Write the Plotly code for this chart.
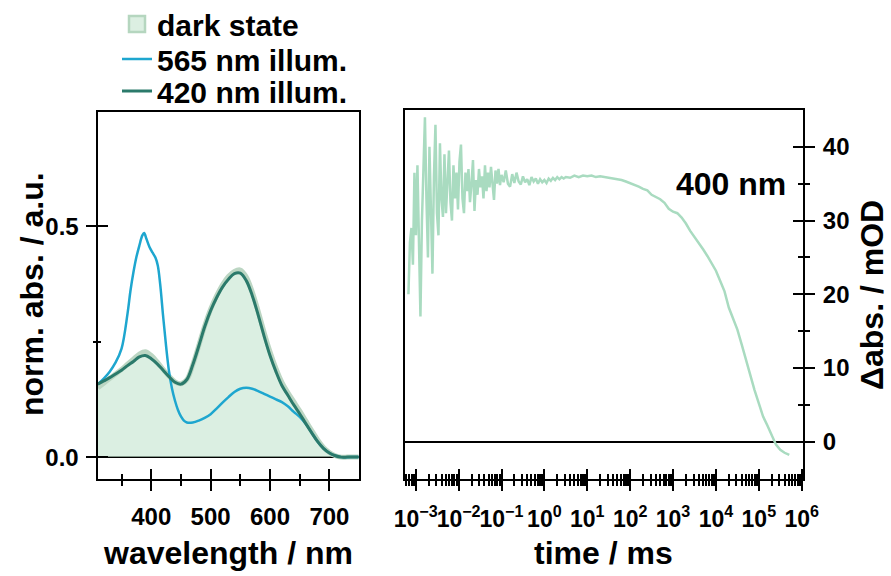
import plotly.graph_objects as go

# ---------------- data: left panel (absorption spectra) ----------------
wl_dark = [310, 320, 330, 340, 350, 360, 370, 380, 390, 400, 410, 420, 430, 440, 450, 460, 470, 480,
           490, 500, 510, 520, 530, 540, 550, 560, 570, 580, 590, 600, 610, 620, 630, 640, 650, 660,
           670, 680, 690, 700, 710, 720, 730, 740, 750]
abs_dark = [0.150, 0.160, 0.170, 0.180, 0.190, 0.201, 0.212, 0.223, 0.228, 0.220, 0.206, 0.190, 0.175,
            0.163, 0.159, 0.168, 0.200, 0.241, 0.284, 0.320, 0.349, 0.373, 0.391, 0.402, 0.405, 0.390,
            0.358, 0.316, 0.270, 0.228, 0.192, 0.162, 0.140, 0.120, 0.100, 0.079, 0.058, 0.038, 0.021,
            0.010, 0.003, 0.000, 0.000, 0.000, 0.000]

wl_420 = wl_dark
abs_420 = [0.158, 0.165, 0.172, 0.180, 0.188, 0.198, 0.207, 0.217, 0.220, 0.213, 0.202, 0.188, 0.174,
           0.162, 0.158, 0.168, 0.200, 0.240, 0.282, 0.317, 0.345, 0.368, 0.385, 0.397, 0.398, 0.382,
           0.350, 0.308, 0.262, 0.220, 0.185, 0.155, 0.134, 0.113, 0.094, 0.073, 0.053, 0.034, 0.019,
           0.009, 0.003, 0.000, 0.000, 0.000, 0.000]

wl_565 = [310, 320, 330, 340, 350, 360, 365, 370, 375, 380, 385, 388, 392, 397, 402, 407, 411, 415, 420,
          425, 430, 435, 440, 445, 450, 455, 460, 470, 480, 490, 500, 510, 520, 530, 540, 550, 560, 570,
          580, 590, 600, 610, 620, 630, 640, 650, 660, 670, 680, 690, 700, 710, 720, 735, 750]
abs_565 = [0.158, 0.170, 0.185, 0.205, 0.235, 0.310, 0.360, 0.400, 0.433, 0.458, 0.480, 0.485, 0.472,
           0.455, 0.443, 0.432, 0.415, 0.375, 0.305, 0.240, 0.185, 0.148, 0.122, 0.102, 0.088, 0.079,
           0.075, 0.075, 0.079, 0.085, 0.093, 0.105, 0.118, 0.130, 0.141, 0.148, 0.150, 0.148, 0.143,
           0.137, 0.131, 0.125, 0.119, 0.110, 0.098, 0.087, 0.072, 0.053, 0.034, 0.019, 0.009, 0.003,
           0.000, 0.000, 0.000]

# ---------------- data: right panel (kinetic trace at 400 nm) ----------------
log_t = [-3.170, -3.135, -3.100, -3.065, -3.030, -2.995, -2.960, -2.925, -2.890, -2.855, -2.820, -2.785,
         -2.750, -2.715, -2.680, -2.645, -2.610, -2.575, -2.540, -2.505, -2.470, -2.435, -2.400, -2.365,
         -2.330, -2.295, -2.260, -2.225, -2.190, -2.155, -2.120, -2.085, -2.050, -2.015, -1.980, -1.945,
         -1.910, -1.875, -1.840, -1.805, -1.770, -1.735, -1.700, -1.665, -1.630, -1.595, -1.560, -1.525,
         -1.490, -1.455, -1.420, -1.385, -1.350, -1.315, -1.280, -1.245, -1.210, -1.175, -1.140, -1.105,
         -1.070, -1.035,
         -1.00, -0.95, -0.90, -0.85, -0.80, -0.75, -0.70, -0.65, -0.60, -0.55, -0.50, -0.45, -0.40, -0.35,
         -0.30, -0.25, -0.20, -0.15, -0.10, -0.05, 0.00, 0.05, 0.10, 0.15, 0.20, 0.25, 0.30, 0.35, 0.40,
         0.45,
         0.5, 0.6, 0.7, 0.8, 0.9, 1.0, 1.1, 1.2, 1.3, 1.4, 1.5, 1.6, 1.7, 1.8, 1.9, 2.0, 2.1, 2.2, 2.3,
         2.4, 2.5, 2.6, 2.7, 2.8, 2.9, 3.0, 3.1, 3.2, 3.3, 3.4, 3.5, 3.6, 3.7, 3.8, 3.9, 4.0, 4.1, 4.2,
         4.3, 4.4, 4.5, 4.6, 4.7, 4.8, 4.9, 5.0, 5.1, 5.2, 5.3, 5.4, 5.5, 5.6, 5.71]
d_abs = [20.0, 27.0, 29.0, 24.0, 36.5, 28.0, 37.5, 26.0, 17.0, 30.0, 38.0, 44.0,
         33.0, 25.0, 40.0, 30.0, 22.8, 36.0, 43.0, 31.0, 28.0, 40.5, 33.0, 30.5,
         39.0, 31.0, 36.0, 39.5, 32.5, 30.0, 37.5, 33.0, 36.5, 31.5, 38.0, 40.3,
         33.0, 31.0, 36.5, 34.0, 37.0, 32.5, 35.0, 38.2, 31.3, 35.5, 33.5, 37.0,
         34.5, 36.0, 33.0, 37.5, 34.0, 36.5, 34.5, 37.3, 35.0, 32.8, 36.8, 35.0,
         37.0, 34.8,
         36.2, 35.2, 36.8, 35.0, 34.6, 36.3, 35.1, 36.5, 35.3, 34.9, 36.0, 35.2, 35.6, 34.8,
         35.9, 35.3, 35.7, 35.0, 35.6, 35.2, 35.5, 35.1, 35.7, 35.4, 35.8, 35.5, 35.9, 35.6, 35.9,
         35.7,
         35.9, 35.8, 36.1, 35.9, 36.1, 36.0, 36.1, 35.9, 36.0, 35.9, 35.8, 35.8, 35.6, 35.5, 35.3,
         35.1, 34.8, 34.6, 34.3, 34.1, 33.5, 33.2, 32.9, 32.4, 31.6, 31.2, 31.0, 30.4, 29.6, 28.6,
         27.8, 26.9, 26.1, 25.2, 24.1, 23.2, 21.8, 20.4, 18.2, 16.8, 15.2, 13.2, 11.0, 9.1, 7.0,
         5.2, 3.4, 2.2, 0.9, -0.4, -1.1, -1.5, -1.8]
time_ms = [10 ** v for v in log_t]

wl_ticks = [400, 500, 600, 700]
wl_minor = [350, 450, 550, 650]
absn_ticks = [0.0, 0.5]
absn_labels = ["0.0", "0.5"]
t_exps = [-3, -2, -1, 0, 1, 2, 3, 4, 5, 6]
t_labels = ["10<sup>\u22123</sup>", "10<sup>\u22122</sup>", "10<sup>\u22121</sup>", "10<sup>0</sup>",
            "10<sup>1</sup>", "10<sup>2</sup>", "10<sup>3</sup>", "10<sup>4</sup>", "10<sup>5</sup>",
            "10<sup>6</sup>"]
mod_ticks = [0, 10, 20, 30, 40]
mod_minor = [5, 15, 25, 35]

# ---------------- styling ----------------
W, H = 891, 576
FONT = "Liberation Sans, Arial, sans-serif"
C_DARK_FILL = "rgba(200,230,210,0.65)"
C_DARK_LINE = "#bcd6c3"
C_565 = "#1ea6cf"
C_420 = "#2b7a6b"
C_KIN = "#a9dbc0"

def px_x(p):
    return p / W

def px_y(p):
    return 1 - p / H

L_DOM = [px_x(97.5), px_x(358.5)]
R_DOM = [px_x(405), px_x(803)]
LY_DOM = [px_y(479.3), px_y(112)]
RY_DOM = [px_y(479.3), px_y(110)]

XR_L = [309.5, 749]
YR_L = [-0.048, 0.747]
XR_R = [-3.25, 6.03]
YR_R = [-5.1, 45]

fig = go.Figure()

fig.add_trace(go.Scatter(x=wl_dark, y=abs_dark, name="dark state", mode="lines", showlegend=False,
                         line=dict(color=C_DARK_LINE, width=5, shape="spline"),
                         fill="tozeroy", fillcolor=C_DARK_FILL, xaxis="x", yaxis="y"))
# legend entry for the dark state (filled box swatch)
fig.add_trace(go.Scatter(x=[None], y=[None], name="dark state", mode="markers", legend="legend",
                         marker=dict(symbol="square", size=24, color="#dcefe2",
                                     line=dict(color="#b5d6bf", width=2.5)),
                         xaxis="x", yaxis="y"))
fig.add_trace(go.Scatter(x=wl_565, y=abs_565, name="565 nm illum.", mode="lines", legend="legend2",
                         line=dict(color=C_565, width=2.5, shape="spline"), xaxis="x", yaxis="y"))
fig.add_trace(go.Scatter(x=wl_420, y=abs_420, name="420 nm illum.", mode="lines", legend="legend3",
                         line=dict(color=C_420, width=3, shape="spline"), xaxis="x", yaxis="y"))

fig.add_trace(go.Scatter(x=time_ms, y=d_abs, mode="lines", showlegend=False,
                         line=dict(color=C_KIN, width=2.5), xaxis="x2", yaxis="y2"))

# dummy traces registering the overlay (inside-tick) axes
fig.add_trace(go.Scatter(x=[None], y=[None], showlegend=False, hoverinfo="skip", xaxis="x3", yaxis="y3"))
fig.add_trace(go.Scatter(x=[None], y=[None], showlegend=False, hoverinfo="skip", xaxis="x4", yaxis="y4"))

tickfont = dict(family=FONT, size=24, color="black", weight="bold")
tickfont_t = dict(family=FONT, size=23, color="black", weight="bold")
common = dict(showgrid=False, linecolor="black", tickcolor="black", tickwidth=2, automargin=False)
leg_font = dict(family=FONT, size=30, color="black", weight="bold")
LEG_X = px_x(117)

def leg(yc):
    return dict(x=LEG_X, y=px_y(yc), xanchor="left", yanchor="middle", font=leg_font,
                bgcolor="rgba(0,0,0,0)", itemwidth=30, itemsizing="trace")

fig.update_layout(
    width=W, height=H, margin=dict(l=0, r=0, t=0, b=0, autoexpand=False),
    paper_bgcolor="white", plot_bgcolor="rgba(0,0,0,0)",
    font=dict(family=FONT, color="black"),
    showlegend=True,
    legend=leg(24), legend2=leg(59), legend3=leg(91),
    xaxis=dict(domain=L_DOM, anchor="y", range=XR_L, showline=True, linewidth=2, mirror=True,
               zeroline=False, tickmode="array", tickvals=wl_ticks, ticks="outside", ticklen=10,
               minor=dict(tickvals=wl_minor, ticks="outside", ticklen=5, tickwidth=2, tickcolor="black"),
               tickfont=tickfont, ticklabelstandoff=5, tickangle=0, **common),
    yaxis=dict(domain=LY_DOM, anchor="x", range=YR_L, showline=True, linewidth=2, mirror=True,
               zeroline=True, zerolinecolor="black", zerolinewidth=2,
               tickmode="array", tickvals=absn_ticks, ticktext=absn_labels, ticks="outside", ticklen=10,
               minor=dict(tickvals=[0.25], ticks="outside", ticklen=3, tickwidth=2, tickcolor="black"),
               tickfont=tickfont, ticklabelstandoff=2, **common),
    xaxis3=dict(overlaying="x", anchor="y3", range=XR_L, showline=False, zeroline=False,
                tickmode="array", tickvals=wl_ticks, ticks="inside", ticklen=10, showticklabels=False,
                minor=dict(tickvals=wl_minor, ticks="inside", ticklen=5, tickwidth=2, tickcolor="black"),
                **common),
    yaxis3=dict(overlaying="y", anchor="x3", range=YR_L, showline=False, zeroline=False,
                tickmode="array", tickvals=absn_ticks, ticks="inside", ticklen=10, showticklabels=False,
                minor=dict(tickvals=[0.25], ticks="inside", ticklen=3, tickwidth=2, tickcolor="black"),
                **common),
    xaxis2=dict(domain=R_DOM, anchor="y2", type="log", range=XR_R, showline=True, linewidth=2,
                mirror=True, zeroline=False, tickmode="array",
                tickvals=[10 ** e for e in t_exps], ticktext=t_labels, ticks="outside", ticklen=10,
                minor=dict(tickvals=[m * 10 ** e for e in range(-4, 6) for m in range(2, 10)],
                           ticks="outside", ticklen=5, tickwidth=2, tickcolor="black"),
                tickfont=tickfont_t, ticklabelstandoff=8, tickangle=0, **common),
    xaxis4=dict(overlaying="x2", anchor="y4", type="log", range=XR_R, showline=False, zeroline=False,
                tickmode="array", tickvals=[10 ** e for e in t_exps], ticks="inside", ticklen=10,
                showticklabels=False,
                minor=dict(tickvals=[m * 10 ** e for e in range(-4, 6) for m in range(2, 10)],
                           ticks="inside", ticklen=5, tickwidth=2, tickcolor="black"),
                **common),
    yaxis2=dict(domain=RY_DOM, anchor="x2", side="right", range=YR_R, showline=True, linewidth=2,
                mirror=True, zeroline=True, zerolinecolor="black", zerolinewidth=2,
                tickmode="array", tickvals=mod_ticks, ticks="outside", ticklen=10,
                minor=dict(tickvals=mod_minor, ticks="outside", ticklen=5, tickwidth=2, tickcolor="black"),
                tickfont=tickfont, ticklabelstandoff=3, **common),
    yaxis4=dict(overlaying="y2", anchor="x4", side="right", range=YR_R, showline=False, zeroline=False,
                tickmode="array", tickvals=mod_ticks, ticks="inside", ticklen=10, showticklabels=False,
                minor=dict(tickvals=mod_minor, ticks="inside", ticklen=5, tickwidth=2, tickcolor="black"),
                **common),
)

title_font = dict(family=FONT, size=32, color="black", weight="bold")
fig.add_annotation(text="wavelength / nm", xref="paper", yref="paper", x=px_x(228), y=px_y(553),
                   xanchor="center", yanchor="middle", showarrow=False, font=title_font)
fig.add_annotation(text="time / ms", xref="paper", yref="paper", x=px_x(603), y=px_y(553),
                   xanchor="center", yanchor="middle", showarrow=False, font=title_font)
fig.add_annotation(text="norm. abs. / a.u.", xref="paper", yref="paper", x=px_x(32), y=px_y(294),
                   xanchor="center", yanchor="middle", showarrow=False, textangle=-90, font=title_font)
fig.add_annotation(text="\u0394abs. / mOD", xref="paper", yref="paper", x=px_x(872), y=px_y(295),
                   xanchor="center", yanchor="middle", showarrow=False, textangle=-90, font=title_font)
fig.add_annotation(text="400 nm", xref="paper", yref="paper", x=px_x(788), y=px_y(184),
                   xanchor="right", yanchor="middle", showarrow=False, font=title_font)

# remove the browser's default page margin so figure pixels map 1:1 onto the window
fig.write_html("out.html", config={"displayModeBar": False},
               post_script="document.body.style.margin='0';document.body.style.padding='0';")
